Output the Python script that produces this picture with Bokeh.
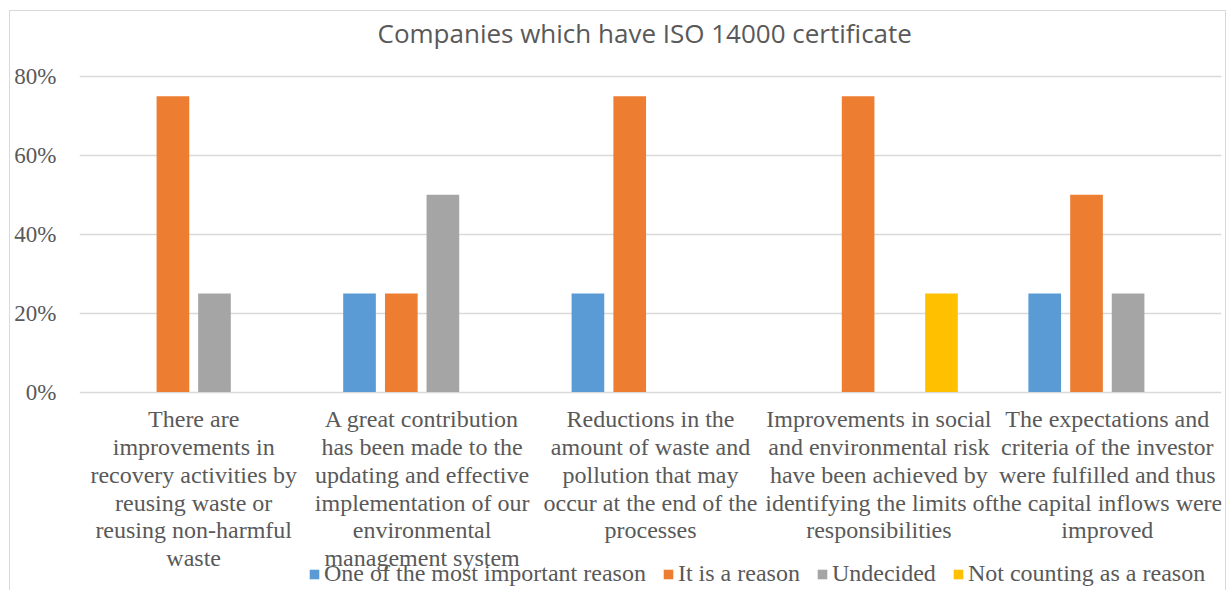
from bokeh.plotting import figure
from bokeh.models import FactorRange, Range1d, Legend, LegendItem, NumeralTickFormatter, ColumnDataSource
from bokeh.transform import dodge
from bokeh.embed import file_html
from bokeh.resources import INLINE

categories = [
    "There are\nimprovements in\nrecovery activities by\nreusing waste or\nreusing non-harmful\nwaste",
    "A great contribution\nhas been made to the\nupdating and effective\nimplementation of our\nenvironmental\nmanagement system",
    "Reductions in the\namount of waste and\npollution that may\noccur at the end of the\nprocesses",
    "Improvements in social\nand environmental risk\nhave been achieved by\nidentifying the limits of\nresponsibilities",
    "The expectations and\ncriteria of the investor\nwere fulfilled and thus\nthe capital inflows were\nimproved",
]
series_names = ["One of the most important reason", "It is a reason", "Undecided", "Not counting as a reason"]
one_most_important = [0.0, 0.25, 0.25, 0.0, 0.25]
is_a_reason = [0.75, 0.25, 0.75, 0.75, 0.50]
undecided = [0.25, 0.50, 0.0, 0.0, 0.25]
not_counting = [0.0, 0.0, 0.0, 0.25, 0.0]
y_ticks = [0, 0.2, 0.4, 0.6, 0.8]
colors = ["#5B9BD5", "#ED7D31", "#A5A5A5", "#FFC000"]

src = ColumnDataSource(dict(cat=categories, s0=one_most_important, s1=is_a_reason,
                            s2=undecided, s3=not_counting, base=[0] * len(categories)))

serif = "'Liberation Serif', 'Times New Roman', serif"
grey_text = "#595959"

p = figure(x_range=FactorRange(*categories, range_padding=0), y_range=Range1d(-0.5055, 0.866),
           width=1217, height=580, output_backend="svg", toolbar_location=None,
           x_axis_location=None,
           min_border_left=69, min_border_right=6, min_border_top=39, min_border_bottom=0)
p.styles = {"margin-left": "9px", "margin-top": "10px",
            "border": "1px solid #d9d9d9", "border-bottom-width": "0px",
            "box-sizing": "border-box"}

p.title.text = "Companies which have ISO 14000 certificate"
p.title.align = "left"
p.title.offset = 298
p.title.vertical_align = "bottom"
p.title.text_font = "Open Sans"
p.title.text_font_style = "normal"
p.title.text_font_size = "26px"
p.title.text_color = grey_text
p.title.standoff = 0

offsets = [-0.274, -0.091, 0.091, 0.274]
renderers = []
for i, key in enumerate(["s0", "s1", "s2", "s3"]):
    r = p.vbar(x=dodge("cat", offsets[i], range=p.x_range), top=key, width=0.143,
               source=src, fill_color=colors[i], line_color=None)
    renderers.append(r)

# category labels under the zero line
p.text(x="cat", y="base", text="cat", source=src, y_offset=14,
       text_align="center", text_baseline="top", text_font=serif,
       text_font_size="24px", text_color=grey_text, text_line_height=1.07)

p.outline_line_color = None
p.background_fill_color = "white"
p.border_fill_color = "white"

p.xgrid.grid_line_color = None
p.ygrid.grid_line_color = "#D9D9D9"
p.ygrid.grid_line_width = 1.3

p.yaxis.ticker = y_ticks
p.yaxis.formatter = NumeralTickFormatter(format="0%")
p.yaxis.axis_line_color = None
p.yaxis.major_tick_line_color = None
p.yaxis.minor_tick_line_color = None
p.yaxis.major_tick_out = 0
p.yaxis.major_tick_in = 0
p.yaxis.minor_tick_out = 0
p.yaxis.minor_tick_in = 0
p.yaxis.major_label_text_font = serif
p.yaxis.major_label_text_font_size = "23px"
p.yaxis.major_label_text_color = grey_text
p.yaxis.major_label_standoff = 23

legend = Legend(items=[LegendItem(label=series_names[i], renderers=[renderers[i]]) for i in range(4)],
                orientation="horizontal", location=(229, 4),
                label_text_font=serif, label_text_font_size="24px", label_text_color=grey_text,
                glyph_width=12, glyph_height=12, label_standoff=4, spacing=16,
                padding=0, margin=0, border_line_color=None, background_fill_alpha=0)
p.add_layout(legend, "center")

open("out.html", "w").write(file_html(p, INLINE))
